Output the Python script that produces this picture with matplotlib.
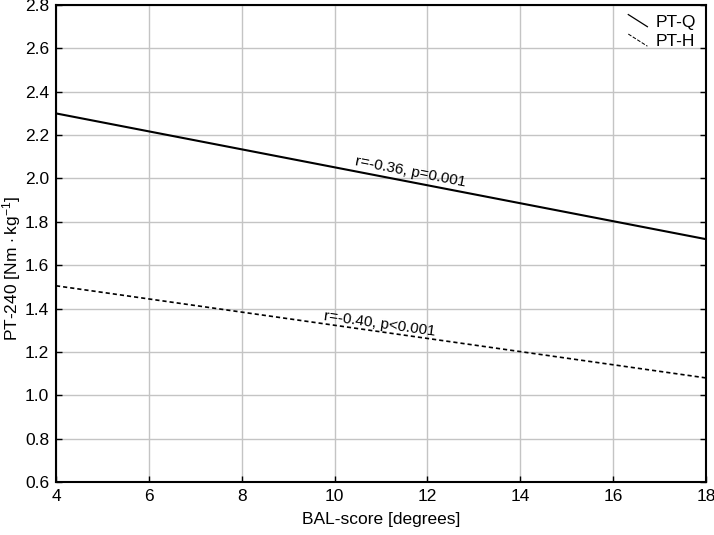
import matplotlib
matplotlib.use("Agg")
import matplotlib.pyplot as plt
from matplotlib.lines import Line2D
from matplotlib.legend_handler import HandlerBase

plt.rcParams['font.family'] = ['Liberation Sans', 'DejaVu Sans']
plt.rcParams['mathtext.fontset'] = 'custom'
plt.rcParams['mathtext.rm'] = 'Liberation Sans'
plt.rcParams['mathtext.it'] = 'Liberation Sans:italic'

# Data
x_ends = [4, 18]
ptq = [2.30, 1.72]
pth = [1.505, 1.08]
series_labels = ["PT-Q", "PT-H"]
annot_q = "r=-0.36, p=0.001"
annot_h = "r=-0.40, p<0.001"
xticks = [4, 6, 8, 10, 12, 14, 16, 18]
yticks = [0.6, 0.8, 1.0, 1.2, 1.4, 1.6, 1.8, 2.0, 2.2, 2.4, 2.6, 2.8]

FS = 12.5
FS_ANN = 11


class DiagHandler(HandlerBase):
    def create_artists(self, legend, orig_handle, xdescent, ydescent,
                       width, height, fontsize, trans):
        l = Line2D([-xdescent, -xdescent + width], [height, 0],
                   color=orig_handle.get_color(),
                   linestyle=orig_handle.get_linestyle(),
                   linewidth=orig_handle.get_linewidth() * 0.6)
        l.set_transform(trans)
        return [l]


fig = plt.figure(figsize=(7.14, 5.35), dpi=100)
ax = fig.add_axes([56 / 714, 1 - 482 / 535, 650 / 714, 477 / 535])

lq, = ax.plot(x_ends, ptq, color='black', lw=1.5, label=series_labels[0])
lh, = ax.plot(x_ends, pth, color='black', lw=1.2, linestyle=(0, (2.5, 1.8)),
              label=series_labels[1])

ax.set_xlim(4, 18)
ax.set_ylim(0.6, 2.8)
ax.set_xticks(xticks)
ax.set_yticks(yticks)
ax.set_yticklabels([f"{v:.1f}" for v in yticks])
ax.grid(True, color='#c4c4c4', lw=1.0)
ax.set_axisbelow(True)
for s in ax.spines.values():
    s.set_linewidth(1.5)
ax.tick_params(direction='in', length=4, width=1, labelsize=FS,
               right=True, top=False, pad=5)

ax.set_xlabel("BAL-score [degrees]", fontsize=FS, labelpad=6)
ax.set_ylabel(r"PT-240 [Nm$\,\cdot$kg$^{-1}$]", fontsize=FS)
ax.yaxis.set_label_coords(-0.05, 0.447)

ax.text(11.63, 2.03, annot_q, fontsize=FS_ANN, rotation=-11, ha='center',
        va='center', rotation_mode='anchor')
ax.text(10.98, 1.33, annot_h, fontsize=FS_ANN, rotation=-8, ha='center',
        va='center', rotation_mode='anchor')

leg = ax.legend(handles=[lq, lh], loc='upper right', frameon=False,
                fontsize=FS, handler_map={Line2D: DiagHandler()},
                handlelength=1.1, handletextpad=0.5, labelspacing=0.25,
                borderaxespad=0.15)

fig.savefig("out.png", dpi=100)
